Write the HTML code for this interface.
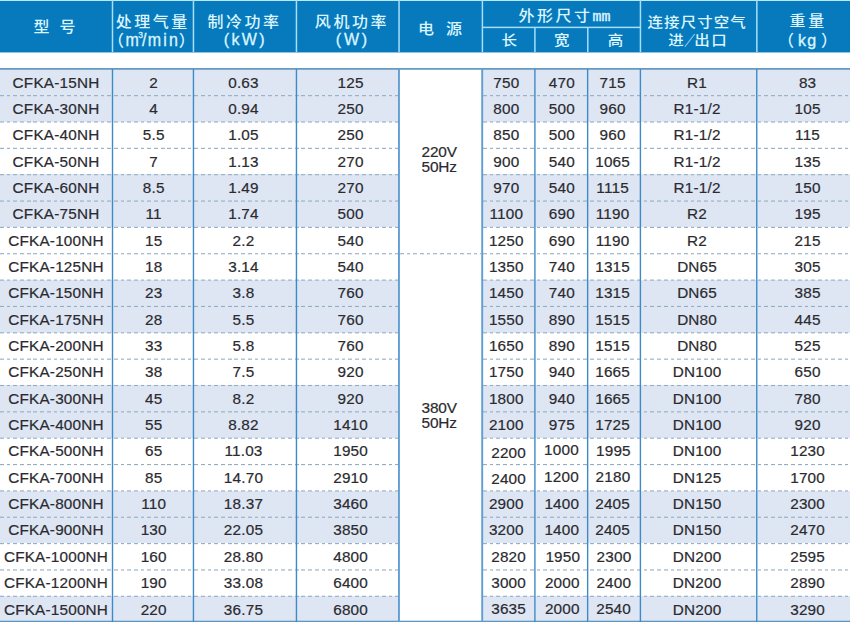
<!DOCTYPE html>
<html lang="zh-CN"><head><meta charset="utf-8"><title>CFKA 技术参数</title>
<style>
html,body{margin:0;padding:0;background:#fff;}
body{width:850px;height:622px;position:relative;overflow:hidden;font-family:"Liberation Sans","Noto Sans CJK SC",sans-serif;}
#t{position:absolute;left:0;top:0;width:850px;height:622px;overflow:hidden;}
#t div{position:absolute;}
.hd{left:0;top:0;width:850px;height:52px;background:#067abd;}
.hv{width:1.5px;background:#a6dff9;}
.hh{height:1.5px;background:#a6dff9;}
.sh{background:#dee6f4;}
.v{width:1.3px;background:#3c8bc8;}
.hl{height:1.6px;background:#689ec4;}
.d{height:1px;background-image:repeating-linear-gradient(90deg,#93adc3 0,#93adc3 3.7px,transparent 3.7px,transparent 6.7px);}
.c{color:#2a2a2f;font-size:15.3px;letter-spacing:0.2px;line-height:26.35px;height:26.35px;text-align:center;white-space:nowrap;-webkit-text-stroke:0.2px #2a2a2f;}
.h{color:#dcf5ff;white-space:nowrap;font-weight:500;line-height:22px;height:22px;}
.p{color:#2a2a2f;font-size:15.4px;line-height:15px;letter-spacing:-0.15px;text-align:center;white-space:nowrap;-webkit-text-stroke:0.2px #2a2a2f;}
.cj{display:inline-block;transform:scaleY(0.91);transform-origin:50% 50%;}.pl{letter-spacing:0;font-size:16px;}.pr{letter-spacing:0;font-size:16px;margin-left:-2px}.lt{display:inline-block;-webkit-text-stroke:0.3px currentColor;transform:scaleY(1.1);transform-origin:50% 78%;}
</style></head><body><div id="t">
<div class="hd"></div>
<div style="left:0;top:52px;width:850px;height:1px;background:rgba(6,122,189,0.45)"></div>
<div style="left:0;top:0;width:850px;height:1px;background:#b9e9fb"></div>
<div style="left:111px;width:1px;top:0px;height:52px;background:rgba(166,223,249,0.25)"></div>
<div style="left:112px;width:1px;top:0px;height:52px;background:rgba(166,223,249,1)"></div>
<div style="left:113px;width:1px;top:0px;height:52px;background:rgba(166,223,249,0.25)"></div>
<div style="left:192px;width:1px;top:0px;height:52px;background:rgba(166,223,249,0.3)"></div>
<div style="left:193px;width:1px;top:0px;height:52px;background:rgba(166,223,249,1)"></div>
<div style="left:194px;width:1px;top:0px;height:52px;background:rgba(166,223,249,0.2)"></div>
<div style="left:295px;width:1px;top:0px;height:52px;background:rgba(166,223,249,0.3)"></div>
<div style="left:296px;width:1px;top:0px;height:52px;background:rgba(166,223,249,1)"></div>
<div style="left:297px;width:1px;top:0px;height:52px;background:rgba(166,223,249,0.2)"></div>
<div style="left:398px;width:1px;top:0px;height:52px;background:rgba(166,223,249,0.7)"></div>
<div style="left:399px;width:1px;top:0px;height:52px;background:rgba(166,223,249,0.8)"></div>
<div style="left:481px;width:1px;top:0px;height:52px;background:rgba(166,223,249,0.35)"></div>
<div style="left:482px;width:1px;top:0px;height:52px;background:rgba(166,223,249,1)"></div>
<div style="left:483px;width:1px;top:0px;height:52px;background:rgba(166,223,249,0.15)"></div>
<div style="left:639px;width:1px;top:0px;height:52px;background:rgba(166,223,249,0.3)"></div>
<div style="left:640px;width:1px;top:0px;height:52px;background:rgba(166,223,249,1)"></div>
<div style="left:641px;width:1px;top:0px;height:52px;background:rgba(166,223,249,0.2)"></div>
<div style="left:756px;width:1px;top:0px;height:52px;background:rgba(166,223,249,0.9)"></div>
<div style="left:757px;width:1px;top:0px;height:52px;background:rgba(166,223,249,0.6)"></div>
<div style="left:534px;width:1px;top:27px;height:25px;background:rgba(166,223,249,0.85)"></div>
<div style="left:535px;width:1px;top:27px;height:25px;background:rgba(166,223,249,0.65)"></div>
<div style="left:587px;width:1px;top:27px;height:25px;background:rgba(166,223,249,0.95)"></div>
<div style="left:588px;width:1px;top:27px;height:25px;background:rgba(166,223,249,0.55)"></div>
<div style="top:26px;height:1px;left:482px;width:159px;background:rgba(166,223,249,0.35)"></div>
<div style="top:27px;height:1px;left:482px;width:159px;background:rgba(166,223,249,1)"></div>
<div style="top:28px;height:1px;left:482px;width:159px;background:rgba(166,223,249,0.15)"></div>
<div class="h" style="left:33.6px;top:15.8px;font-size:16px;letter-spacing:10.0px;"><span class="cj">型号</span></div>
<div class="h" style="left:115.8px;top:11.2px;font-size:16px;letter-spacing:2.5px;"><span class="cj">处理气量</span></div>
<div class="h" style="left:108.0px;top:29.5px;font-size:16px;letter-spacing:2.2px;"><span class="pl" style="margin-right:1.6px">（</span><span class="lt">m<span style="font-size:8.5px;position:relative;top:-7px;letter-spacing:0;margin-left:-2.9px;margin-right:-0.9px">3</span><span style="margin-right:-1px">/</span>min</span><span class="pr" style="margin-left:-1.3px">）</span></div>
<div class="h" style="left:207.6px;top:11.2px;font-size:16px;letter-spacing:2.5px;"><span class="cj">制冷功率</span></div>
<div class="h" style="left:223.8px;top:29.3px;font-size:16px;letter-spacing:2.3px;-webkit-text-stroke:0.3px currentColor;">(kW)</div>
<div class="h" style="left:314.8px;top:11.2px;font-size:16px;letter-spacing:2.6px;"><span class="cj">风机功率</span></div>
<div class="h" style="left:335.8px;top:29.3px;font-size:16px;letter-spacing:2.8px;-webkit-text-stroke:0.3px currentColor;">(W)</div>
<div class="h" style="left:418.0px;top:18.4px;font-size:16px;letter-spacing:12.0px;"><span class="cj">电源</span></div>
<div class="h" style="left:518.5px;top:5.2px;font-size:16px;letter-spacing:2.5px;"><span class="cj">外形尺寸</span><span style="font-family:'Liberation Mono',monospace;font-size:15px;letter-spacing:0;-webkit-text-stroke:0.4px currentColor">mm</span></div>
<div class="h" style="left:501.6px;top:29.0px;font-size:15.5px;letter-spacing:0px;"><span class="cj">长</span></div>
<div class="h" style="left:554.0px;top:29.0px;font-size:15.5px;letter-spacing:0px;"><span class="cj">宽</span></div>
<div class="h" style="left:607.7px;top:29.0px;font-size:15.5px;letter-spacing:0px;"><span class="cj">高</span></div>
<div class="h" style="left:647.5px;top:11.2px;font-size:15.5px;letter-spacing:1.05px;"><span class="cj">连接尺寸空气</span></div>
<div class="h" style="left:668.2px;top:29.0px;font-size:15.5px;letter-spacing:1.4px;"><span class="cj">进</span><span style="display:inline-block;transform:scale(0.7,0.91);letter-spacing:0;margin:0 -2.7px 0 -3.6px">／</span><span class="cj">出口</span></div>
<div class="h" style="left:789.6px;top:10.0px;font-size:16px;letter-spacing:2.6px;"><span class="cj">重量</span></div>
<div class="h" style="left:778.0px;top:29.5px;font-size:16px;letter-spacing:1.2px;"><span class="pl" style="margin-right:4px">（</span><span style="-webkit-text-stroke:0.35px currentColor">kg</span><span class="pr" style="margin-left:3.6px">）</span></div>
<div class="sh" style="left:0;top:69.00px;width:399.0px;height:26.45px"></div>
<div class="sh" style="left:482.0px;top:69.00px;width:368.0px;height:26.45px"></div>
<div class="sh" style="left:0;top:95.35px;width:399.0px;height:26.45px"></div>
<div class="sh" style="left:482.0px;top:95.35px;width:368.0px;height:26.45px"></div>
<div class="sh" style="left:0;top:174.40px;width:399.0px;height:26.45px"></div>
<div class="sh" style="left:482.0px;top:174.40px;width:368.0px;height:26.45px"></div>
<div class="sh" style="left:0;top:200.75px;width:399.0px;height:26.45px"></div>
<div class="sh" style="left:482.0px;top:200.75px;width:368.0px;height:26.45px"></div>
<div class="sh" style="left:0;top:279.80px;width:399.0px;height:26.45px"></div>
<div class="sh" style="left:482.0px;top:279.80px;width:368.0px;height:26.45px"></div>
<div class="sh" style="left:0;top:306.15px;width:399.0px;height:26.45px"></div>
<div class="sh" style="left:482.0px;top:306.15px;width:368.0px;height:26.45px"></div>
<div class="sh" style="left:0;top:385.20px;width:399.0px;height:26.45px"></div>
<div class="sh" style="left:482.0px;top:385.20px;width:368.0px;height:26.45px"></div>
<div class="sh" style="left:0;top:411.55px;width:399.0px;height:26.45px"></div>
<div class="sh" style="left:482.0px;top:411.55px;width:368.0px;height:26.45px"></div>
<div class="sh" style="left:0;top:490.60px;width:399.0px;height:26.45px"></div>
<div class="sh" style="left:482.0px;top:490.60px;width:368.0px;height:26.45px"></div>
<div class="sh" style="left:0;top:516.95px;width:399.0px;height:26.45px"></div>
<div class="sh" style="left:482.0px;top:516.95px;width:368.0px;height:26.45px"></div>
<div class="sh" style="left:0;top:596.00px;width:399.0px;height:26.45px"></div>
<div class="sh" style="left:482.0px;top:596.00px;width:368.0px;height:26.45px"></div>
<div class="d" style="top:95px;left:0px;width:398px;opacity:0.9"></div>
<div class="d" style="top:96px;left:0px;width:398px;opacity:0.2"></div>
<div class="d" style="top:95px;left:483px;width:367px;opacity:0.9"></div>
<div class="d" style="top:96px;left:483px;width:367px;opacity:0.2"></div>
<div class="d" style="top:121px;left:0px;width:398px;opacity:0.55"></div>
<div class="d" style="top:122px;left:0px;width:398px;opacity:0.55"></div>
<div class="d" style="top:121px;left:483px;width:367px;opacity:0.55"></div>
<div class="d" style="top:122px;left:483px;width:367px;opacity:0.55"></div>
<div class="d" style="top:147px;left:0px;width:398px;opacity:0.2"></div>
<div class="d" style="top:148px;left:0px;width:398px;opacity:0.9"></div>
<div class="d" style="top:147px;left:483px;width:367px;opacity:0.2"></div>
<div class="d" style="top:148px;left:483px;width:367px;opacity:0.9"></div>
<div class="d" style="top:174px;left:0px;width:398px;opacity:0.85"></div>
<div class="d" style="top:175px;left:0px;width:398px;opacity:0.25"></div>
<div class="d" style="top:174px;left:483px;width:367px;opacity:0.85"></div>
<div class="d" style="top:175px;left:483px;width:367px;opacity:0.25"></div>
<div class="d" style="top:200px;left:0px;width:398px;opacity:0.5"></div>
<div class="d" style="top:201px;left:0px;width:398px;opacity:0.6"></div>
<div class="d" style="top:200px;left:483px;width:367px;opacity:0.5"></div>
<div class="d" style="top:201px;left:483px;width:367px;opacity:0.6"></div>
<div class="d" style="top:226px;left:0px;width:398px;opacity:0.15"></div>
<div class="d" style="top:227px;left:0px;width:398px;opacity:0.95"></div>
<div class="d" style="top:226px;left:483px;width:367px;opacity:0.15"></div>
<div class="d" style="top:227px;left:483px;width:367px;opacity:0.95"></div>
<div class="d" style="top:253px;left:0px;width:398px;opacity:0.8"></div>
<div class="d" style="top:254px;left:0px;width:398px;opacity:0.3"></div>
<div class="d" style="top:253px;left:483px;width:367px;opacity:0.8"></div>
<div class="d" style="top:254px;left:483px;width:367px;opacity:0.3"></div>
<div class="d" style="top:253px;left:400px;width:81px;opacity:0.8"></div>
<div class="d" style="top:254px;left:400px;width:81px;opacity:0.3"></div>
<div class="d" style="top:279px;left:0px;width:398px;opacity:0.45"></div>
<div class="d" style="top:280px;left:0px;width:398px;opacity:0.65"></div>
<div class="d" style="top:279px;left:483px;width:367px;opacity:0.45"></div>
<div class="d" style="top:280px;left:483px;width:367px;opacity:0.65"></div>
<div class="d" style="top:305px;left:0px;width:398px;opacity:0.1"></div>
<div class="d" style="top:306px;left:0px;width:398px;opacity:1.0"></div>
<div class="d" style="top:305px;left:483px;width:367px;opacity:0.1"></div>
<div class="d" style="top:306px;left:483px;width:367px;opacity:1.0"></div>
<div class="d" style="top:332px;left:0px;width:398px;opacity:0.75"></div>
<div class="d" style="top:333px;left:0px;width:398px;opacity:0.35"></div>
<div class="d" style="top:332px;left:483px;width:367px;opacity:0.75"></div>
<div class="d" style="top:333px;left:483px;width:367px;opacity:0.35"></div>
<div class="d" style="top:358px;left:0px;width:398px;opacity:0.4"></div>
<div class="d" style="top:359px;left:0px;width:398px;opacity:0.7"></div>
<div class="d" style="top:358px;left:483px;width:367px;opacity:0.4"></div>
<div class="d" style="top:359px;left:483px;width:367px;opacity:0.7"></div>
<div class="d" style="top:384px;left:0px;width:398px;opacity:0.05"></div>
<div class="d" style="top:385px;left:0px;width:398px;opacity:1"></div>
<div class="d" style="top:386px;left:0px;width:398px;opacity:0.05"></div>
<div class="d" style="top:384px;left:483px;width:367px;opacity:0.05"></div>
<div class="d" style="top:385px;left:483px;width:367px;opacity:1"></div>
<div class="d" style="top:386px;left:483px;width:367px;opacity:0.05"></div>
<div class="d" style="top:411px;left:0px;width:398px;opacity:0.7"></div>
<div class="d" style="top:412px;left:0px;width:398px;opacity:0.4"></div>
<div class="d" style="top:411px;left:483px;width:367px;opacity:0.7"></div>
<div class="d" style="top:412px;left:483px;width:367px;opacity:0.4"></div>
<div class="d" style="top:437px;left:0px;width:398px;opacity:0.35"></div>
<div class="d" style="top:438px;left:0px;width:398px;opacity:0.75"></div>
<div class="d" style="top:437px;left:483px;width:367px;opacity:0.35"></div>
<div class="d" style="top:438px;left:483px;width:367px;opacity:0.75"></div>
<div class="d" style="top:464px;left:0px;width:398px;opacity:1.0"></div>
<div class="d" style="top:465px;left:0px;width:398px;opacity:0.1"></div>
<div class="d" style="top:464px;left:483px;width:367px;opacity:1.0"></div>
<div class="d" style="top:465px;left:483px;width:367px;opacity:0.1"></div>
<div class="d" style="top:490px;left:0px;width:398px;opacity:0.65"></div>
<div class="d" style="top:491px;left:0px;width:398px;opacity:0.45"></div>
<div class="d" style="top:490px;left:483px;width:367px;opacity:0.65"></div>
<div class="d" style="top:491px;left:483px;width:367px;opacity:0.45"></div>
<div class="d" style="top:516px;left:0px;width:398px;opacity:0.3"></div>
<div class="d" style="top:517px;left:0px;width:398px;opacity:0.8"></div>
<div class="d" style="top:516px;left:483px;width:367px;opacity:0.3"></div>
<div class="d" style="top:517px;left:483px;width:367px;opacity:0.8"></div>
<div class="d" style="top:543px;left:0px;width:398px;opacity:0.95"></div>
<div class="d" style="top:544px;left:0px;width:398px;opacity:0.15"></div>
<div class="d" style="top:543px;left:483px;width:367px;opacity:0.95"></div>
<div class="d" style="top:544px;left:483px;width:367px;opacity:0.15"></div>
<div class="d" style="top:569px;left:0px;width:398px;opacity:0.6"></div>
<div class="d" style="top:570px;left:0px;width:398px;opacity:0.5"></div>
<div class="d" style="top:569px;left:483px;width:367px;opacity:0.6"></div>
<div class="d" style="top:570px;left:483px;width:367px;opacity:0.5"></div>
<div class="d" style="top:595px;left:0px;width:398px;opacity:0.25"></div>
<div class="d" style="top:596px;left:0px;width:398px;opacity:0.85"></div>
<div class="d" style="top:595px;left:483px;width:367px;opacity:0.25"></div>
<div class="d" style="top:596px;left:483px;width:367px;opacity:0.85"></div>
<div style="top:68px;height:1px;left:0px;width:850px;background:rgba(93,151,194,0.95)"></div>
<div style="top:69px;height:1px;left:0px;width:850px;background:rgba(93,151,194,0.75)"></div>
<div style="top:620px;height:1px;left:0px;width:850px;background:rgba(93,151,194,0.3)"></div>
<div style="top:621px;height:1px;left:0px;width:850px;background:rgba(93,151,194,1)"></div>
<div style="top:622px;height:1px;left:0px;width:850px;background:rgba(93,151,194,0.3)"></div>
<div style="left:111px;width:1px;top:69px;height:553px;background:rgba(60,139,200,0.2)"></div>
<div style="left:112px;width:1px;top:69px;height:553px;background:rgba(60,139,200,1)"></div>
<div style="left:113px;width:1px;top:69px;height:553px;background:rgba(60,139,200,0.2)"></div>
<div style="left:192px;width:1px;top:69px;height:553px;background:rgba(60,139,200,0.25)"></div>
<div style="left:193px;width:1px;top:69px;height:553px;background:rgba(60,139,200,1)"></div>
<div style="left:194px;width:1px;top:69px;height:553px;background:rgba(60,139,200,0.15)"></div>
<div style="left:295px;width:1px;top:69px;height:553px;background:rgba(60,139,200,0.25)"></div>
<div style="left:296px;width:1px;top:69px;height:553px;background:rgba(60,139,200,1)"></div>
<div style="left:297px;width:1px;top:69px;height:553px;background:rgba(60,139,200,0.15)"></div>
<div style="left:398px;width:1px;top:69px;height:553px;background:rgba(95,157,210,1.0)"></div>
<div style="left:399px;width:1px;top:69px;height:553px;background:rgba(95,157,210,0.9)"></div>
<div style="left:481px;width:1px;top:69px;height:553px;background:rgba(95,157,210,0.75)"></div>
<div style="left:482px;width:1px;top:69px;height:553px;background:rgba(95,157,210,1)"></div>
<div style="left:483px;width:1px;top:69px;height:553px;background:rgba(95,157,210,0.15)"></div>
<div style="left:534px;width:1px;top:69px;height:553px;background:rgba(60,139,200,0.8)"></div>
<div style="left:535px;width:1px;top:69px;height:553px;background:rgba(60,139,200,0.6)"></div>
<div style="left:586px;width:1px;top:69px;height:553px;background:rgba(60,139,200,0.05)"></div>
<div style="left:587px;width:1px;top:69px;height:553px;background:rgba(60,139,200,1)"></div>
<div style="left:588px;width:1px;top:69px;height:553px;background:rgba(60,139,200,0.35)"></div>
<div style="left:639px;width:1px;top:69px;height:553px;background:rgba(60,139,200,0.3)"></div>
<div style="left:640px;width:1px;top:69px;height:553px;background:rgba(60,139,200,1)"></div>
<div style="left:641px;width:1px;top:69px;height:553px;background:rgba(60,139,200,0.1)"></div>
<div style="left:756px;width:1px;top:69px;height:553px;background:rgba(60,139,200,0.95)"></div>
<div style="left:757px;width:1px;top:69px;height:553px;background:rgba(60,139,200,0.45)"></div>
<div class="c" style="left:1.00px;width:110px;top:69.50px">CFKA-15NH</div>
<div class="c" style="left:98.70px;width:110px;top:69.50px">2</div>
<div class="c" style="left:188.50px;width:110px;top:69.50px">0.63</div>
<div class="c" style="left:295.60px;width:110px;top:69.50px">125</div>
<div class="c" style="left:451.30px;width:110px;top:69.50px">750</div>
<div class="c" style="left:506.80px;width:110px;top:69.50px">470</div>
<div class="c" style="left:557.60px;width:110px;top:69.50px">715</div>
<div class="c" style="left:642.10px;width:110px;top:69.50px">R1</div>
<div class="c" style="left:752.60px;width:110px;top:69.50px">83</div>
<div class="c" style="left:1.00px;width:110px;top:95.85px">CFKA-30NH</div>
<div class="c" style="left:98.70px;width:110px;top:95.85px">4</div>
<div class="c" style="left:188.50px;width:110px;top:95.85px">0.94</div>
<div class="c" style="left:295.60px;width:110px;top:95.85px">250</div>
<div class="c" style="left:451.30px;width:110px;top:95.85px">800</div>
<div class="c" style="left:506.80px;width:110px;top:95.85px">500</div>
<div class="c" style="left:557.60px;width:110px;top:95.85px">960</div>
<div class="c" style="left:642.10px;width:110px;top:95.85px">R1-1/2</div>
<div class="c" style="left:752.60px;width:110px;top:95.85px">105</div>
<div class="c" style="left:1.00px;width:110px;top:122.20px">CFKA-40NH</div>
<div class="c" style="left:98.70px;width:110px;top:122.20px">5.5</div>
<div class="c" style="left:188.50px;width:110px;top:122.20px">1.05</div>
<div class="c" style="left:295.60px;width:110px;top:122.20px">250</div>
<div class="c" style="left:451.30px;width:110px;top:122.20px">850</div>
<div class="c" style="left:506.80px;width:110px;top:122.20px">500</div>
<div class="c" style="left:557.60px;width:110px;top:122.20px">960</div>
<div class="c" style="left:642.10px;width:110px;top:122.20px">R1-1/2</div>
<div class="c" style="left:752.60px;width:110px;top:122.20px">115</div>
<div class="c" style="left:1.00px;width:110px;top:148.55px">CFKA-50NH</div>
<div class="c" style="left:98.70px;width:110px;top:148.55px">7</div>
<div class="c" style="left:188.50px;width:110px;top:148.55px">1.13</div>
<div class="c" style="left:295.60px;width:110px;top:148.55px">270</div>
<div class="c" style="left:451.30px;width:110px;top:148.55px">900</div>
<div class="c" style="left:506.80px;width:110px;top:148.55px">540</div>
<div class="c" style="left:557.60px;width:110px;top:148.55px">1065</div>
<div class="c" style="left:642.10px;width:110px;top:148.55px">R1-1/2</div>
<div class="c" style="left:752.60px;width:110px;top:148.55px">135</div>
<div class="c" style="left:1.00px;width:110px;top:174.90px">CFKA-60NH</div>
<div class="c" style="left:98.70px;width:110px;top:174.90px">8.5</div>
<div class="c" style="left:188.50px;width:110px;top:174.90px">1.49</div>
<div class="c" style="left:295.60px;width:110px;top:174.90px">270</div>
<div class="c" style="left:451.30px;width:110px;top:174.90px">970</div>
<div class="c" style="left:506.80px;width:110px;top:174.90px">540</div>
<div class="c" style="left:557.60px;width:110px;top:174.90px">1115</div>
<div class="c" style="left:642.10px;width:110px;top:174.90px">R1-1/2</div>
<div class="c" style="left:752.60px;width:110px;top:174.90px">150</div>
<div class="c" style="left:1.00px;width:110px;top:201.25px">CFKA-75NH</div>
<div class="c" style="left:98.70px;width:110px;top:201.25px">11</div>
<div class="c" style="left:188.50px;width:110px;top:201.25px">1.74</div>
<div class="c" style="left:295.60px;width:110px;top:201.25px">500</div>
<div class="c" style="left:451.30px;width:110px;top:201.25px">1100</div>
<div class="c" style="left:506.80px;width:110px;top:201.25px">690</div>
<div class="c" style="left:557.60px;width:110px;top:201.25px">1190</div>
<div class="c" style="left:642.10px;width:110px;top:201.25px">R2</div>
<div class="c" style="left:752.60px;width:110px;top:201.25px">195</div>
<div class="c" style="left:1.00px;width:110px;top:227.60px">CFKA-100NH</div>
<div class="c" style="left:98.70px;width:110px;top:227.60px">15</div>
<div class="c" style="left:188.50px;width:110px;top:227.60px">2.2</div>
<div class="c" style="left:295.60px;width:110px;top:227.60px">540</div>
<div class="c" style="left:451.30px;width:110px;top:227.60px">1250</div>
<div class="c" style="left:506.80px;width:110px;top:227.60px">690</div>
<div class="c" style="left:557.60px;width:110px;top:227.60px">1190</div>
<div class="c" style="left:642.10px;width:110px;top:227.60px">R2</div>
<div class="c" style="left:752.60px;width:110px;top:227.60px">215</div>
<div class="c" style="left:1.00px;width:110px;top:253.95px">CFKA-125NH</div>
<div class="c" style="left:98.70px;width:110px;top:253.95px">18</div>
<div class="c" style="left:188.50px;width:110px;top:253.95px">3.14</div>
<div class="c" style="left:295.60px;width:110px;top:253.95px">540</div>
<div class="c" style="left:451.30px;width:110px;top:253.95px">1350</div>
<div class="c" style="left:506.80px;width:110px;top:253.95px">740</div>
<div class="c" style="left:557.60px;width:110px;top:253.95px">1315</div>
<div class="c" style="left:642.10px;width:110px;top:253.95px">DN65</div>
<div class="c" style="left:752.60px;width:110px;top:253.95px">305</div>
<div class="c" style="left:1.00px;width:110px;top:280.30px">CFKA-150NH</div>
<div class="c" style="left:98.70px;width:110px;top:280.30px">23</div>
<div class="c" style="left:188.50px;width:110px;top:280.30px">3.8</div>
<div class="c" style="left:295.60px;width:110px;top:280.30px">760</div>
<div class="c" style="left:451.30px;width:110px;top:280.30px">1450</div>
<div class="c" style="left:506.80px;width:110px;top:280.30px">740</div>
<div class="c" style="left:557.60px;width:110px;top:280.30px">1315</div>
<div class="c" style="left:642.10px;width:110px;top:280.30px">DN65</div>
<div class="c" style="left:752.60px;width:110px;top:280.30px">385</div>
<div class="c" style="left:1.00px;width:110px;top:306.65px">CFKA-175NH</div>
<div class="c" style="left:98.70px;width:110px;top:306.65px">28</div>
<div class="c" style="left:188.50px;width:110px;top:306.65px">5.5</div>
<div class="c" style="left:295.60px;width:110px;top:306.65px">760</div>
<div class="c" style="left:451.30px;width:110px;top:306.65px">1550</div>
<div class="c" style="left:506.80px;width:110px;top:306.65px">890</div>
<div class="c" style="left:557.60px;width:110px;top:306.65px">1515</div>
<div class="c" style="left:642.10px;width:110px;top:306.65px">DN80</div>
<div class="c" style="left:752.60px;width:110px;top:306.65px">445</div>
<div class="c" style="left:1.00px;width:110px;top:333.00px">CFKA-200NH</div>
<div class="c" style="left:98.70px;width:110px;top:333.00px">33</div>
<div class="c" style="left:188.50px;width:110px;top:333.00px">5.8</div>
<div class="c" style="left:295.60px;width:110px;top:333.00px">760</div>
<div class="c" style="left:451.30px;width:110px;top:333.00px">1650</div>
<div class="c" style="left:506.80px;width:110px;top:333.00px">890</div>
<div class="c" style="left:557.60px;width:110px;top:333.00px">1515</div>
<div class="c" style="left:642.10px;width:110px;top:333.00px">DN80</div>
<div class="c" style="left:752.60px;width:110px;top:333.00px">525</div>
<div class="c" style="left:1.00px;width:110px;top:359.35px">CFKA-250NH</div>
<div class="c" style="left:98.70px;width:110px;top:359.35px">38</div>
<div class="c" style="left:188.50px;width:110px;top:359.35px">7.5</div>
<div class="c" style="left:295.60px;width:110px;top:359.35px">920</div>
<div class="c" style="left:451.30px;width:110px;top:359.35px">1750</div>
<div class="c" style="left:506.80px;width:110px;top:359.35px">940</div>
<div class="c" style="left:557.60px;width:110px;top:359.35px">1665</div>
<div class="c" style="left:642.10px;width:110px;top:359.35px">DN100</div>
<div class="c" style="left:752.60px;width:110px;top:359.35px">650</div>
<div class="c" style="left:1.00px;width:110px;top:385.70px">CFKA-300NH</div>
<div class="c" style="left:98.70px;width:110px;top:385.70px">45</div>
<div class="c" style="left:188.50px;width:110px;top:385.70px">8.2</div>
<div class="c" style="left:295.60px;width:110px;top:385.70px">920</div>
<div class="c" style="left:451.30px;width:110px;top:385.70px">1800</div>
<div class="c" style="left:506.80px;width:110px;top:385.70px">940</div>
<div class="c" style="left:557.60px;width:110px;top:385.70px">1665</div>
<div class="c" style="left:642.10px;width:110px;top:385.70px">DN100</div>
<div class="c" style="left:752.60px;width:110px;top:385.70px">780</div>
<div class="c" style="left:1.00px;width:110px;top:412.05px">CFKA-400NH</div>
<div class="c" style="left:98.70px;width:110px;top:412.05px">55</div>
<div class="c" style="left:188.50px;width:110px;top:412.05px">8.82</div>
<div class="c" style="left:295.60px;width:110px;top:412.05px">1410</div>
<div class="c" style="left:451.30px;width:110px;top:412.05px">2100</div>
<div class="c" style="left:506.80px;width:110px;top:412.05px">975</div>
<div class="c" style="left:557.60px;width:110px;top:412.05px">1725</div>
<div class="c" style="left:642.10px;width:110px;top:412.05px">DN100</div>
<div class="c" style="left:752.60px;width:110px;top:412.05px">920</div>
<div class="c" style="left:1.00px;width:110px;top:438.40px">CFKA-500NH</div>
<div class="c" style="left:98.70px;width:110px;top:438.40px">65</div>
<div class="c" style="left:188.50px;width:110px;top:438.40px">11.03</div>
<div class="c" style="left:295.60px;width:110px;top:438.40px">1950</div>
<div class="c" style="left:453.60px;width:110px;top:440.00px">2200</div>
<div class="c" style="left:506.50px;width:110px;top:436.80px">1000</div>
<div class="c" style="left:558.40px;width:110px;top:438.40px">1995</div>
<div class="c" style="left:642.10px;width:110px;top:438.40px">DN100</div>
<div class="c" style="left:752.60px;width:110px;top:438.40px">1230</div>
<div class="c" style="left:1.00px;width:110px;top:464.75px">CFKA-700NH</div>
<div class="c" style="left:98.70px;width:110px;top:464.75px">85</div>
<div class="c" style="left:188.50px;width:110px;top:464.75px">14.70</div>
<div class="c" style="left:295.60px;width:110px;top:464.75px">2910</div>
<div class="c" style="left:453.60px;width:110px;top:465.75px">2400</div>
<div class="c" style="left:506.50px;width:110px;top:464.25px">1200</div>
<div class="c" style="left:558.00px;width:110px;top:463.55px">2180</div>
<div class="c" style="left:642.10px;width:110px;top:464.75px">DN125</div>
<div class="c" style="left:752.60px;width:110px;top:464.75px">1700</div>
<div class="c" style="left:1.00px;width:110px;top:491.10px">CFKA-800NH</div>
<div class="c" style="left:98.70px;width:110px;top:491.10px">110</div>
<div class="c" style="left:188.50px;width:110px;top:491.10px">18.37</div>
<div class="c" style="left:295.60px;width:110px;top:491.10px">3460</div>
<div class="c" style="left:451.30px;width:110px;top:491.10px">2900</div>
<div class="c" style="left:506.80px;width:110px;top:491.10px">1400</div>
<div class="c" style="left:557.60px;width:110px;top:491.10px">2405</div>
<div class="c" style="left:642.10px;width:110px;top:491.10px">DN150</div>
<div class="c" style="left:752.60px;width:110px;top:491.10px">2300</div>
<div class="c" style="left:1.00px;width:110px;top:517.45px">CFKA-900NH</div>
<div class="c" style="left:98.70px;width:110px;top:517.45px">130</div>
<div class="c" style="left:188.50px;width:110px;top:517.45px">22.05</div>
<div class="c" style="left:295.60px;width:110px;top:517.45px">3850</div>
<div class="c" style="left:451.30px;width:110px;top:517.45px">3200</div>
<div class="c" style="left:506.80px;width:110px;top:517.45px">1400</div>
<div class="c" style="left:557.60px;width:110px;top:517.45px">2405</div>
<div class="c" style="left:642.10px;width:110px;top:517.45px">DN150</div>
<div class="c" style="left:752.60px;width:110px;top:517.45px">2470</div>
<div class="c" style="left:1.00px;width:110px;top:543.80px">CFKA-1000NH</div>
<div class="c" style="left:98.70px;width:110px;top:543.80px">160</div>
<div class="c" style="left:188.50px;width:110px;top:543.80px">28.80</div>
<div class="c" style="left:295.60px;width:110px;top:543.80px">4800</div>
<div class="c" style="left:453.60px;width:110px;top:544.40px">2820</div>
<div class="c" style="left:507.80px;width:110px;top:544.40px">1950</div>
<div class="c" style="left:559.00px;width:110px;top:544.40px">2300</div>
<div class="c" style="left:642.10px;width:110px;top:543.80px">DN200</div>
<div class="c" style="left:752.60px;width:110px;top:543.80px">2595</div>
<div class="c" style="left:1.00px;width:110px;top:570.15px">CFKA-1200NH</div>
<div class="c" style="left:98.70px;width:110px;top:570.15px">190</div>
<div class="c" style="left:188.50px;width:110px;top:570.15px">33.08</div>
<div class="c" style="left:295.60px;width:110px;top:570.15px">6400</div>
<div class="c" style="left:453.60px;width:110px;top:570.15px">3000</div>
<div class="c" style="left:507.30px;width:110px;top:570.15px">2000</div>
<div class="c" style="left:558.80px;width:110px;top:570.15px">2400</div>
<div class="c" style="left:642.10px;width:110px;top:570.15px">DN200</div>
<div class="c" style="left:752.60px;width:110px;top:570.15px">2890</div>
<div class="c" style="left:1.00px;width:110px;top:596.50px">CFKA-1500NH</div>
<div class="c" style="left:98.70px;width:110px;top:596.50px">220</div>
<div class="c" style="left:188.50px;width:110px;top:596.50px">36.75</div>
<div class="c" style="left:295.60px;width:110px;top:596.50px">6800</div>
<div class="c" style="left:453.60px;width:110px;top:596.10px">3635</div>
<div class="c" style="left:507.30px;width:110px;top:596.10px">2000</div>
<div class="c" style="left:558.60px;width:110px;top:596.10px">2540</div>
<div class="c" style="left:642.10px;width:110px;top:596.50px">DN200</div>
<div class="c" style="left:752.60px;width:110px;top:596.50px">3290</div>
<div class="p" style="left:397.7px;width:83.0px;top:144px">220V<br>50Hz</div>
<div class="p" style="left:397.7px;width:83.0px;top:400.4px">380V<br>50Hz</div>
</div></body></html>
